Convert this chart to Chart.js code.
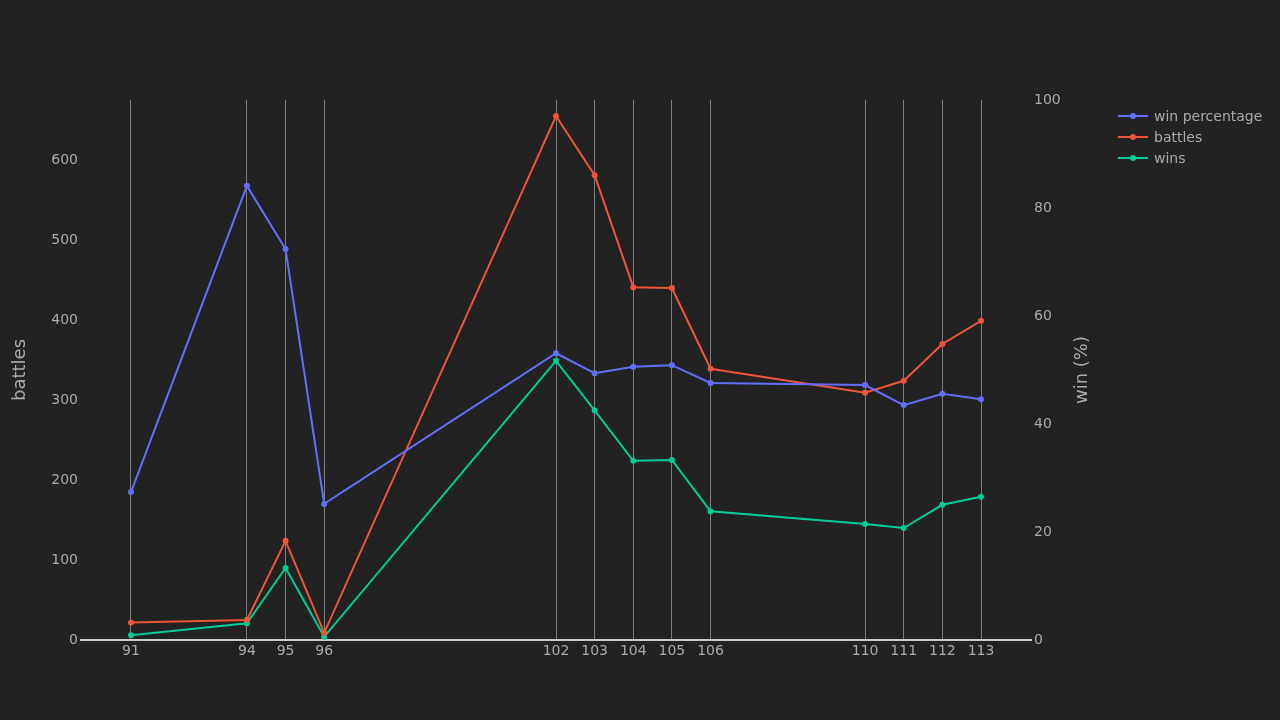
<!DOCTYPE html>
<html>
<head>
<meta charset="utf-8">
<script src="https://cdn.jsdelivr.net/npm/chart.js@4"></script>
<style>
  html, body { margin: 0; background: #222222; }
  #wrap { position: relative; width: 1280px; height: 720px; }
  #legend { position: absolute; left: 1118px; top: 105px; font: 14px "DejaVu Sans", sans-serif; color: #aaaaaa; }
  .item { display: flex; align-items: center; height: 21px; }
  .item svg { margin-right: 6px; }
</style>
</head>
<body>
<div id="wrap">
  <canvas id="chart" width="1280" height="720"></canvas>
  <div id="legend"></div>
</div>
<script>
const tiers = [91, 94, 95, 96, 102, 103, 104, 105, 106, 110, 111, 112, 113];
const winPercentage = [27.4, 84.1, 72.4, 25.2, 53.1, 49.4, 50.6, 50.9, 47.6, 47.2, 43.5, 45.6, 44.6];
const battles = [22, 25, 124, 9, 655, 581, 441, 440, 339, 309, 324, 370, 399];
const wins = [6, 21, 90, 4, 349, 287, 224, 225, 161, 145, 140, 169, 179];
const leftTicks = [0, 100, 200, 300, 400, 500, 600];
const rightTicks = [0, 20, 40, 60, 80, 100];

const colors = { win: "#636efa", battles: "#ef553b", wins: "#00cc96", text: "#aaaaaa", grid: "#7f7f7f" };

const toPoints = (vals) => tiers.map((t, i) => ({ x: t, y: vals[i] }));
const font = { family: "DejaVu Sans", size: 14 };

const series = [
  { label: "win percentage", data: toPoints(winPercentage), color: colors.win, axis: "y2" },
  { label: "battles", data: toPoints(battles), color: colors.battles, axis: "y" },
  { label: "wins", data: toPoints(wins), color: colors.wins, axis: "y" },
];

new Chart(document.getElementById("chart"), {
  type: "line",
  data: {
    datasets: series.map((s) => ({
      label: s.label,
      data: s.data,
      yAxisID: s.axis,
      borderColor: s.color,
      backgroundColor: s.color,
      borderWidth: 2,
      pointRadius: 3,
      pointBorderWidth: 0,
      tension: 0,
    })),
  },
  options: {
    responsive: false,
    animation: false,
    layout: { padding: { top: 100, right: 178, bottom: 0, left: 0 } },
    plugins: { legend: { display: false }, tooltip: { enabled: false } },
    scales: {
      x: {
        type: "linear",
        min: 89.68,
        max: 114.32,
        afterBuildTicks: (ax) => { ax.ticks = tiers.map((v) => ({ value: v })); },
        afterFit: (ax) => { ax.height = 80; },
        ticks: { color: colors.text, font, padding: 3, autoSkip: false, maxRotation: 0 },
        grid: { color: colors.grid, lineWidth: 1, drawTicks: false, drawOnChartArea: true },
        border: { display: false },
      },
      y: {
        position: "left",
        min: 0,
        max: 675,
        afterBuildTicks: (ax) => { ax.ticks = leftTicks.map((v) => ({ value: v })); },
        afterFit: (ax) => { ax.width = 80; },
        ticks: { color: colors.text, font, padding: 2 },
        grid: { display: false, drawTicks: false },
        border: { display: false },
      },
      y2: {
        position: "right",
        min: 0,
        max: 100,
        afterBuildTicks: (ax) => { ax.ticks = rightTicks.map((v) => ({ value: v })); },
        afterFit: (ax) => { ax.width = 70; },
        ticks: { color: colors.text, font, padding: 2 },
        grid: { display: false, drawTicks: false },
        border: { display: false },
      },
    },
  },
  plugins: [{
    id: "extras",
    beforeDatasetsDraw(chart) {
      const { ctx, chartArea } = chart;
      ctx.save();
      ctx.strokeStyle = "#cccccc";
      ctx.lineWidth = 2;
      ctx.beginPath();
      ctx.moveTo(chartArea.left, chartArea.bottom);
      ctx.lineTo(chartArea.right, chartArea.bottom);
      ctx.stroke();
      // axis titles, both reading bottom to top
      const midY = (chartArea.top + chartArea.bottom) / 2;
      ctx.fillStyle = colors.text;
      ctx.font = '18px "DejaVu Sans"';
      ctx.textAlign = "center";
      ctx.textBaseline = "middle";
      [["battles", 20], ["win (%)", 1082]].forEach(([text, x]) => {
        ctx.save();
        ctx.translate(x, midY);
        ctx.rotate(-Math.PI / 2);
        ctx.fillText(text, 0, 0);
        ctx.restore();
      });
      ctx.restore();
    },
  }],
});

const legend = document.getElementById("legend");
series.forEach((s) => {
  const row = document.createElement("div");
  row.className = "item";
  row.innerHTML = `<svg width="30" height="10"><line x1="0" y1="5" x2="30" y2="5" stroke="${s.color}" stroke-width="2"/><circle cx="15" cy="5" r="3" fill="${s.color}"/></svg>${s.label}`;
  legend.appendChild(row);
});
</script>
</body>
</html>
